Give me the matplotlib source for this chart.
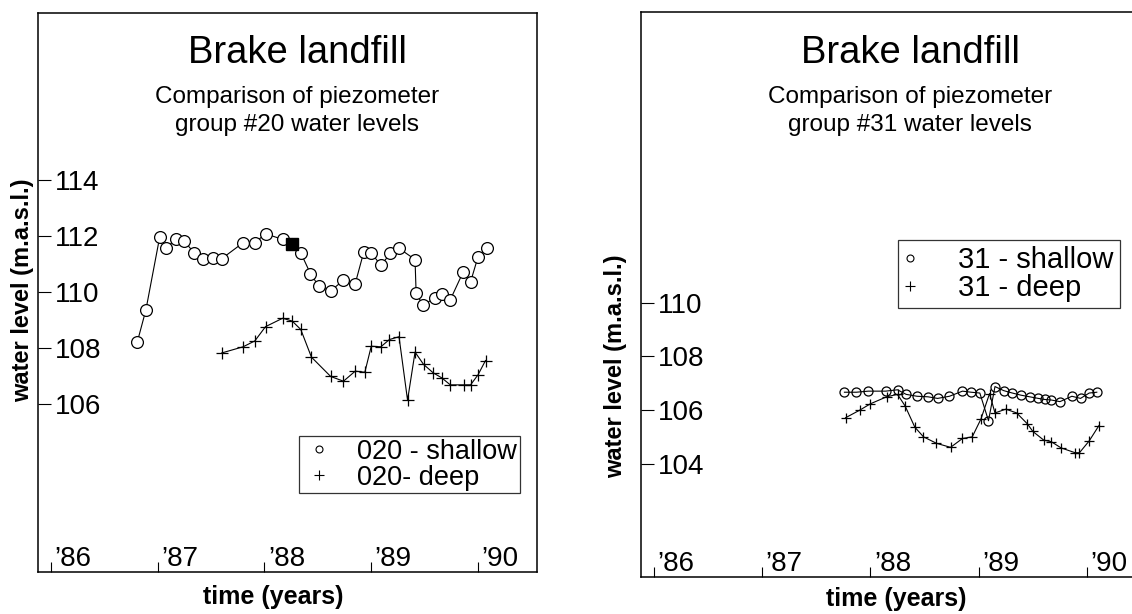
import matplotlib
matplotlib.use('Agg')
import matplotlib.pyplot as plt
from matplotlib.lines import Line2D

plt.rcParams['font.family'] = ['Liberation Sans', 'DejaVu Sans']

# grupo 20 - raso / profundo
anos_raso20 = [1986.81, 1986.89, 1987.02, 1987.08, 1987.17, 1987.25, 1987.34, 1987.42, 1987.52, 1987.60,
               1987.80, 1987.91, 1988.01, 1988.17, 1988.26, 1988.34, 1988.43, 1988.51, 1988.62, 1988.74,
               1988.85, 1988.93, 1989.00, 1989.09, 1989.18, 1989.26, 1989.41, 1989.42, 1989.48, 1989.60,
               1989.66, 1989.74, 1989.86, 1989.93, 1990.00, 1990.08]
nivel_raso20 = [108.23, 109.37, 111.99, 111.59, 111.89, 111.83, 111.41, 111.20, 111.22, 111.20,
                111.77, 111.77, 112.09, 111.89, 111.71, 111.41, 110.67, 110.21, 110.05, 110.43,
                110.31, 111.44, 111.41, 110.96, 111.39, 111.57, 111.17, 109.99, 109.55, 109.79,
                109.93, 109.73, 110.72, 110.37, 111.27, 111.59]
# ponto marcado com quadrado cheio
anos_marca20 = [1988.26]
nivel_marca20 = [111.71]

anos_prof20 = [1987.60, 1987.80, 1987.91, 1988.01, 1988.17, 1988.26, 1988.34, 1988.44, 1988.62, 1988.74,
               1988.85, 1988.94, 1989.00, 1989.09, 1989.17, 1989.26, 1989.34, 1989.41, 1989.49, 1989.58,
               1989.66, 1989.74, 1989.87, 1989.93, 1990.00, 1990.07]
nivel_prof20 = [107.83, 108.05, 108.26, 108.77, 109.07, 108.97, 108.67, 107.68, 106.99, 106.82,
                107.18, 107.14, 108.07, 108.05, 108.31, 108.41, 106.14, 107.86, 107.42, 107.12,
                106.94, 106.69, 106.69, 106.69, 107.05, 107.56]

# grupo 31 - raso / profundo
anos_raso31 = [1987.76, 1987.87, 1987.98, 1988.14, 1988.25, 1988.33, 1988.43, 1988.53, 1988.62, 1988.73,
               1988.85, 1988.93, 1989.01, 1989.09, 1989.15, 1989.23, 1989.31, 1989.39, 1989.47, 1989.55,
               1989.61, 1989.67, 1989.75, 1989.86, 1989.94, 1990.02, 1990.09]
nivel_raso31 = [106.67, 106.67, 106.71, 106.71, 106.76, 106.59, 106.52, 106.50, 106.44, 106.52,
                106.71, 106.67, 106.64, 105.61, 106.88, 106.73, 106.64, 106.56, 106.50, 106.44,
                106.40, 106.38, 106.32, 106.52, 106.44, 106.64, 106.67]

anos_prof31 = [1987.77, 1987.90, 1988.00, 1988.15, 1988.25, 1988.32, 1988.41, 1988.49, 1988.61, 1988.74,
               1988.85, 1988.94, 1989.02, 1989.10, 1989.15, 1989.25, 1989.35, 1989.45, 1989.50, 1989.60,
               1989.67, 1989.76, 1989.89, 1989.93, 1990.02, 1990.11]
nivel_prof31 = [105.72, 106.00, 106.24, 106.50, 106.59, 106.16, 105.37, 105.01, 104.77, 104.62,
                104.95, 105.01, 105.67, 106.62, 105.90, 106.04, 105.90, 105.49, 105.21, 104.89,
                104.83, 104.60, 104.42, 104.42, 104.86, 105.43]

anos_ticks = [1986, 1987, 1988, 1989, 1990]
rotulos_anos = ['\u201986', '\u201987', '\u201988', '\u201989', '\u201990']
ticks_y20 = [106, 108, 110, 112, 114]
ticks_y31 = [104, 106, 108, 110]

W, H = 1132, 614
fig = plt.figure(figsize=(W / 100, H / 100), dpi=100)
fig.patch.set_facecolor('white')


def px(x0, y_top, x1, y_bot):
    return [x0 / W, 1 - y_bot / H, (x1 - x0) / W, (y_bot - y_top) / H]


ax20 = fig.add_axes(px(37.5, 12.5, 537, 572))
ax31 = fig.add_axes(px(640.5, 11.7, 1200, 576.7))

ax20.set_xlim(1985.875, 1990.552)
ax20.set_ylim(100, 120)
ax31.set_xlim(1985.877, 1991.043)
ax31.set_ylim(99.81, 120.82)


def preparar_eixo(ax, ticks_y):
    for lado in ax.spines.values():
        lado.set_linewidth(1.1)
    ax.set_yticks(ticks_y)
    ax.set_yticklabels([str(t) for t in ticks_y])
    ax.tick_params(axis='y', direction='in', length=9, width=0.8, pad=-12.5, labelsize=20)
    for t in ax.get_yticklabels():
        t.set_horizontalalignment('left')
    ax.set_xticks(anos_ticks)
    ax.set_xticklabels([])
    ax.tick_params(axis='x', direction='in', length=7, width=0.8)
    for ano, rot in zip(anos_ticks, rotulos_anos):
        ax.annotate(rot, xy=(ano, 0), xycoords=('data', 'axes fraction'),
                    xytext=(2.5, 4), textcoords='offset points',
                    ha='left', va='baseline', fontsize=20)


preparar_eixo(ax20, ticks_y20)
preparar_eixo(ax31, ticks_y31)

estilo_linha = dict(color='black', linewidth=0.8)

ax20.plot(anos_raso20, nivel_raso20, marker='o', ms=8.5, mfc='white', mec='black', mew=0.9, **estilo_linha)
ax20.plot(anos_marca20, nivel_marca20, ls='none', marker='s', ms=8, color='black')
ax20.plot(anos_prof20, nivel_prof20, marker='+', ms=9, mew=0.9, **estilo_linha)

ax31.plot(anos_raso31, nivel_raso31, marker='o', ms=6.5, mfc='none', mec='black', mew=0.9, **estilo_linha)
ax31.plot(anos_prof31, nivel_prof31, marker='+', ms=7.5, mew=0.9, **estilo_linha)

marca_raso = Line2D([], [], ls='none', marker='o', ms=5, mfc='none', mec='black', mew=0.8)
marca_prof = Line2D([], [], ls='none', marker='+', ms=7, color='black', mew=0.8)

leg20 = ax20.legend([marca_raso, marca_prof], ['020 - shallow', '020- deep'],
                    loc='upper left', bbox_to_anchor=((299 - 37.5) / 499.5, (572 - 436) / 559.5),
                    fontsize=19.5, frameon=True, fancybox=False, borderpad=0.1,
                    labelspacing=0.0, handletextpad=0.8, handlelength=1.25, borderaxespad=0)
leg20.get_frame().set_edgecolor('black')
leg20.get_frame().set_linewidth(0.9)

leg31 = ax31.legend([marca_raso, marca_prof], ['31 - shallow', '31 - deep'],
                    loc='upper left', bbox_to_anchor=((898 - 640.5) / 559.5, (576.7 - 240) / 565),
                    fontsize=21, frameon=True, fancybox=False, borderpad=0.2,
                    labelspacing=0.0, handletextpad=1.47, handlelength=0.4, borderaxespad=0)
leg31.get_frame().set_edgecolor('black')
leg31.get_frame().set_linewidth(0.9)

# titulos e rotulos
for cx, grupo in [(297, '20'), (910, '31')]:
    fig.text(cx / W, 1 - 53 / H, 'Brake landfill', ha='center', va='center', fontsize=27.5)
    fig.text(cx / W, 1 - 111 / H, 'Comparison of piezometer\ngroup #' + grupo + ' water levels',
             ha='center', va='center', fontsize=17.5, linespacing=1.3)

fig.text(23 / W, 1 - 290 / H, 'water level (m.a.s.l.)', rotation=90, ha='center', va='center',
         fontsize=17, fontweight='bold')
fig.text(616 / W, 1 - 366 / H, 'water level (m.a.s.l.)', rotation=90, ha='center', va='center',
         fontsize=17, fontweight='bold')
fig.text(273 / W, 1 - 597 / H, 'time (years)', ha='center', va='center', fontsize=18, fontweight='bold')
fig.text(896 / W, 1 - 599 / H, 'time (years)', ha='center', va='center', fontsize=18, fontweight='bold')

fig.savefig('out.png', dpi=100, facecolor='white')
